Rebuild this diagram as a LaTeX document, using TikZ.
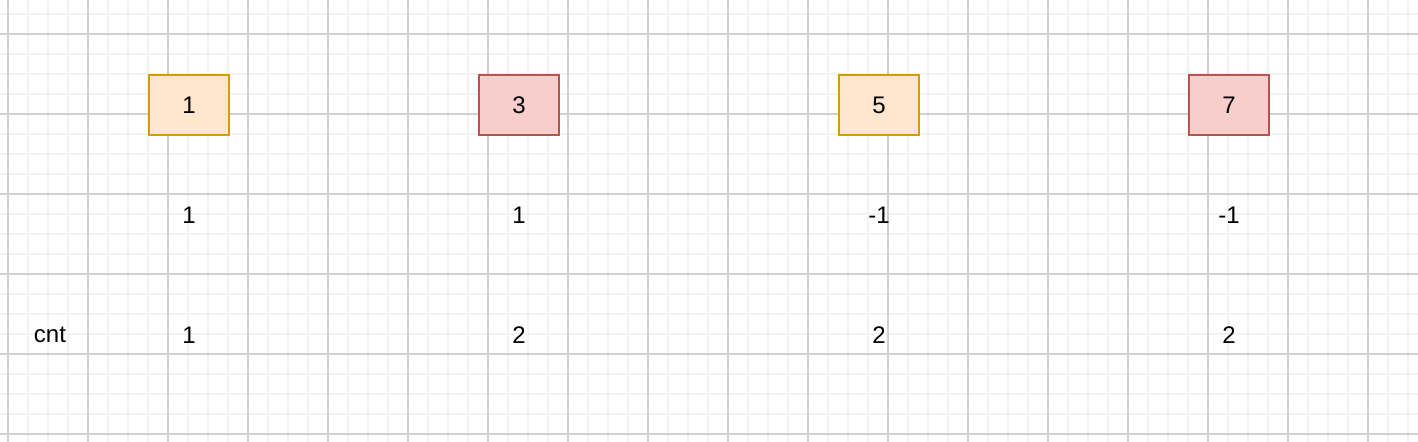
\documentclass[tikz,border=0pt]{standalone}
\usepackage{fontspec}
\setmainfont{Liberation Sans}
\definecolor{minorgrid}{HTML}{F2F2F2}
\definecolor{majorgrid}{HTML}{D0D0D0}
\definecolor{orfill}{HTML}{FFE6CC}
\definecolor{ordraw}{HTML}{D79B00}
\definecolor{rdfill}{HTML}{F8CECC}
\definecolor{rddraw}{HTML}{B85450}
\begin{document}
\begin{tikzpicture}[x=0.5pt,y=-0.5pt,
  minorline/.style={minorgrid,line width=1pt},
  majorline/.style={majorgrid,line width=0.6pt},
  cell/.style={minimum width=40pt,minimum height=30pt,inner sep=0pt,line width=1pt,font=\fontsize{12}{14}\selectfont},
  orcell/.style={cell,draw=ordraw,fill=orfill},
  rdcell/.style={cell,draw=rddraw,fill=rdfill},
  lbl/.style={inner sep=0pt,font=\fontsize{12}{14}\selectfont}]
\useasboundingbox (0,0) rectangle (1418,442);
\fill[white] (0,0) rectangle (1418,442);
\foreach \x in {8,28,...,1408} \draw[minorline] (\x,0) -- (\x,442);
\foreach \y in {14,34,...,434} \draw[minorline] (0,\y) -- (1418,\y);
\foreach \x in {8,88,...,1368} \draw[majorline] (\x,0) -- (\x,442);
\foreach \y in {34,114,...,434} \draw[majorline] (0,\y) -- (1418,\y);
\node[orcell] (b1) at (189,105) {1};
\node[rdcell] (b3) at (519,105) {3};
\node[orcell] (b5) at (879,105) {5};
\node[rdcell] (b7) at (1229,105) {7};
\node[lbl] (d1) at (189,215) {1};
\node[lbl] (d3) at (519,215) {1};
\node[lbl] (d5) at (879,215) {-1};
\node[lbl] (d7) at (1229,215) {-1};
\node[lbl] (cnt) at (50,335) {cnt};
\node[lbl] (c1) at (189,335) {1};
\node[lbl] (c3) at (519,335) {2};
\node[lbl] (c5) at (879,335) {2};
\node[lbl] (c7) at (1229,335) {2};
\end{tikzpicture}
\end{document}
